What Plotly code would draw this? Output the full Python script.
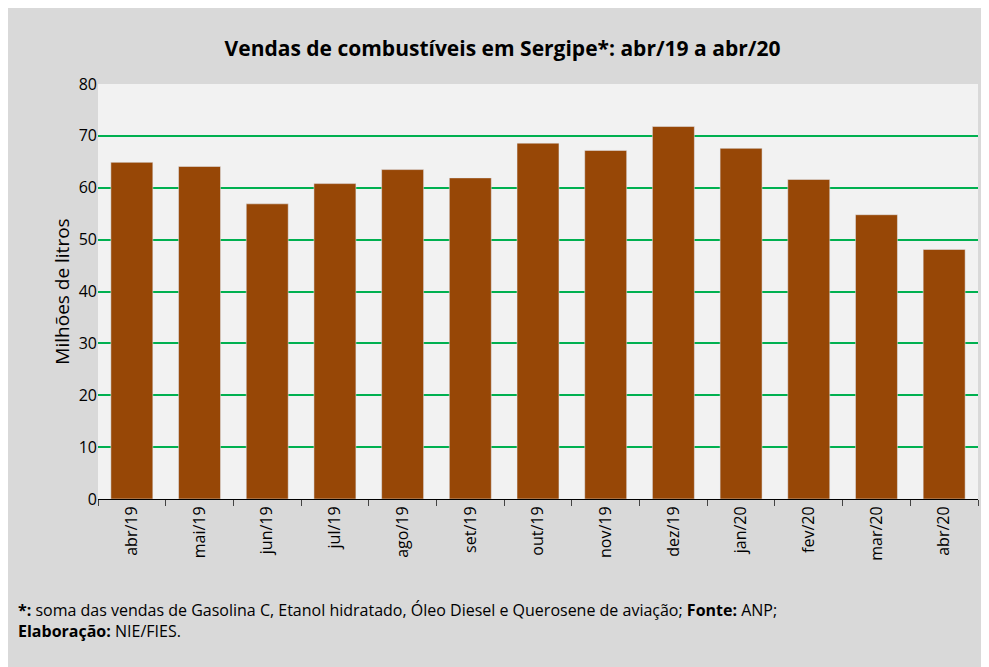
import plotly.graph_objects as go

months = ["abr/19", "mai/19", "jun/19", "jul/19", "ago/19", "set/19", "out/19",
          "nov/19", "dez/19", "jan/20", "fev/20", "mar/20", "abr/20"]
sales = [64.9, 64.1, 56.9, 60.8, 63.5, 61.9, 68.6, 67.2, 71.8, 67.6, 61.6, 54.8, 48.1]

fig = go.Figure(go.Bar(x=months, y=sales, marker_color="#974706", width=0.62))

fig.update_layout(
    width=989, height=667,
    paper_bgcolor="#d9d9d9", plot_bgcolor="#f2f2f2",
    font=dict(family="Open Sans", size=16, color="black"),
    margin=dict(l=90, r=19, t=76, b=176),
    showlegend=False,
    title=dict(text="<b>Vendas de combustíveis em Sergipe*: abr/19 a abr/20</b>",
               x=0.5, xanchor="center", y=0.95, font=dict(size=21)),
    annotations=[dict(
        xref="paper", yref="paper", x=-0.093, y=-0.235, xanchor="left", yanchor="top",
        align="left", showarrow=False, font=dict(size=16),
        text="<b>*:</b> soma das vendas de Gasolina C, Etanol hidratado, Óleo Diesel e "
             "Querosene de aviação; <b>Fonte:</b> ANP;<br><b>Elaboração:</b> NIE/FIES.")],
)
fig.update_xaxes(tickangle=-90, showline=True, linecolor="black", ticks="outside",
                 ticklen=6, tickson="boundaries")
fig.update_yaxes(range=[0, 80], dtick=10, gridcolor="#00b050", gridwidth=1.5,
                 zeroline=False, title=dict(text="Milhões de litros", standoff=4))

fig.write_html("out.html")
